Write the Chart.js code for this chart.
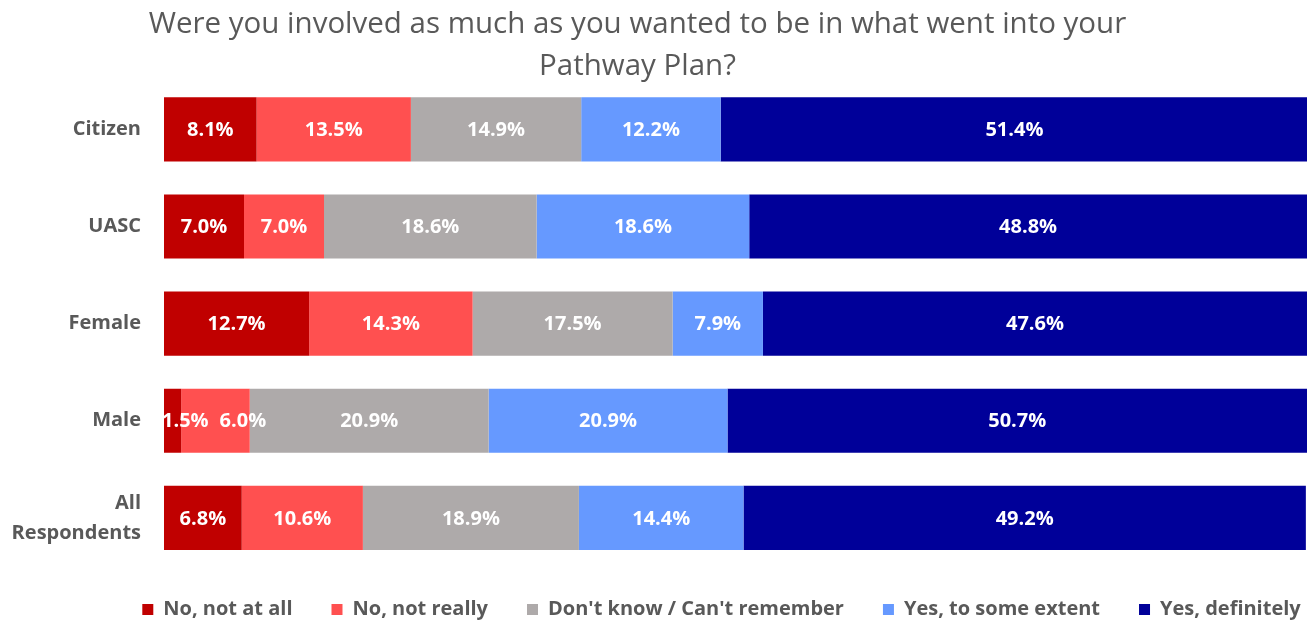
<!DOCTYPE html>
<html>
<head>
<meta charset="utf-8">
<script src="https://cdn.jsdelivr.net/npm/chart.js@4.4.1/dist/chart.umd.min.js"></script>
<style>
  html, body { margin: 0; padding: 0; background: #ffffff; }
  #wrap { width: 1307px; height: 620px; }
</style>
</head>
<body>
<div id="wrap"><canvas id="c" width="1307" height="620"></canvas></div>
<script>
// Survey groups (rows of the chart)
const groups = ['Citizen', 'UASC', 'Female', 'Male', ['All', 'Respondents']];

// Response shares per group, in percent
const noNotAtAll    = [8.1, 7.0, 12.7, 1.5, 6.8];
const noNotReally   = [13.5, 7.0, 14.3, 6.0, 10.6];
const dontKnow      = [14.9, 18.6, 17.5, 20.9, 18.9];
const yesSomeExtent = [12.2, 18.6, 7.9, 20.9, 14.4];
const yesDefinitely = [51.4, 48.8, 47.6, 50.7, 49.2];

const seriesNames = ['No, not at all', 'No, not really', "Don't know / Can't remember", 'Yes, to some extent', 'Yes, definitely'];
const seriesColors = ['#C00000', '#FF5050', '#AEAAAA', '#6699FF', '#000099'];

const FONT = "'Open Sans', 'Noto Sans', sans-serif";

// Writes each segment's value in the middle of its bar; labels are kept
// inside the plot on the left and pushed right when they would collide
const valueLabels = {
  id: 'valueLabels',
  afterDatasetsDraw(chart) {
    const ctx = chart.ctx;
    const area = chart.chartArea;
    const gap = 11;
    ctx.save();
    ctx.font = "bold 20px " + FONT;
    ctx.fillStyle = '#ffffff';
    ctx.textAlign = 'left';
    ctx.textBaseline = 'middle';
    chart.data.labels.forEach((_, i) => {
      let prevRight = -Infinity;
      chart.data.datasets.forEach((ds, di) => {
        const bar = chart.getDatasetMeta(di).data[i];
        const text = ds.data[i].toFixed(1) + '%';
        const w = ctx.measureText(text).width;
        let left = (bar.x + bar.base) / 2 - w / 2;
        left = Math.max(left, area.left - 2, prevRight + gap);
        ctx.fillText(text, left, bar.y + 1);
        prevRight = left + w;
      });
    });
    ctx.restore();
  }
};

// Shifts a layout box (title / legend) while it is painted; the box may
// also be allowed to paint down to the canvas bottom
function nudgeDraw(box, dx, dy, toBottom) {
  const draw = box.draw;
  box.draw = function () {
    const saved = { left: this.left, right: this.right, top: this.top, bottom: this.bottom };
    this.left += dx;
    this.right += dx;
    this.top += dy;
    this.bottom = toBottom ? this.chart.height : this.bottom + dy;
    draw.apply(this, arguments);
    Object.assign(this, saved);
  };
}

// Keeps the bottom legend band compact while leaving wide gaps between entries,
// and places the title slightly left of centre
const boxTweaks = {
  id: 'boxTweaks',
  beforeUpdate(chart) {
    const lg = chart.legend;
    if (lg && !lg._tweaked) {
      const fit = lg.fit;
      lg.fit = function () {
        fit.call(this);
        this.height = 53.5;
      };
      nudgeDraw(lg, 68, -6, true);
      lg._tweaked = true;
    }
    const tt = chart.titleBlock;
    if (tt && !tt._tweaked) {
      nudgeDraw(tt, -16, 0, false);
      tt._tweaked = true;
    }
  }
};

const datasets = [noNotAtAll, noNotReally, dontKnow, yesSomeExtent, yesDefinitely].map((d, i) => ({
  label: seriesNames[i],
  data: d,
  backgroundColor: seriesColors[i],
  borderWidth: 0,
  barPercentage: 0.66,
  categoryPercentage: 1.0
}));

new Chart(document.getElementById('c'), {
  type: 'bar',
  data: { labels: groups, datasets },
  options: {
    indexAxis: 'y',
    responsive: false,
    animation: false,
    layout: { padding: { left: 0, right: 0, top: 0, bottom: 0 } },
    scales: {
      x: {
        stacked: true,
        min: 0,
        max: 100,
        display: false
      },
      y: {
        stacked: true,
        grid: { display: false },
        border: { display: false },
        ticks: {
          color: '#595959',
          font: { family: FONT, size: 20, weight: 'bold', lineHeight: 1.5 },
          padding: 15
        },
        afterFit(scale) { scale.width = 164; }
      }
    },
    plugins: {
      title: {
        display: true,
        text: ['Were you involved as much as you wanted to be in what went into your', 'Pathway Plan?'],
        color: '#595959',
        font: { family: FONT, size: 29.5, weight: 'normal', lineHeight: 1.42 },
        padding: { top: 4, bottom: -7 }
      },
      legend: {
        position: 'bottom',
        labels: {
          color: '#595959',
          font: { family: FONT, size: 20, weight: 'bold' },
          boxWidth: 11,
          boxHeight: 11,
          padding: 39
        }
      },
      tooltip: { enabled: false }
    }
  },
  plugins: [valueLabels, boxTweaks]
});
</script>
</body>
</html>
